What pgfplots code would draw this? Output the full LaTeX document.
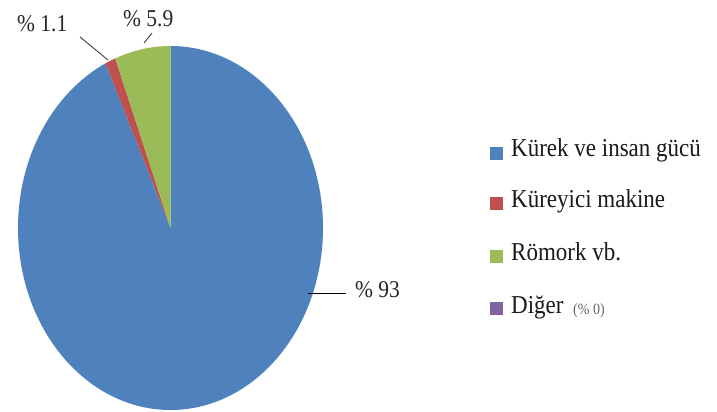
\documentclass[border=0pt]{standalone}
\usepackage{fontspec}
\setmainfont{Liberation Serif}
\usepackage{pgfplots}
\pgfplotsset{compat=1.18}
\definecolor{pieblue}{HTML}{4F81BD}
\definecolor{piered}{HTML}{C0504D}
\definecolor{piegreen}{HTML}{9BBB59}
\definecolor{piepurple}{HTML}{8064A2}
\definecolor{leader}{HTML}{404040}
% pie values (percent), clockwise from 12 o'clock
\def\vA{93}   % Kurek ve insan gucu
\def\vB{1.1}  % Kureyici makine
\def\vC{5.9}  % Romork vb.
\def\vD{0}    % Diger
\def\cx{170.5}
\def\cy{184}
\def\rx{152.5}
\def\ry{182}
\begin{document}
\begin{tikzpicture}
\begin{axis}[x=1pt,y=1pt,xmin=0,xmax=717,ymin=0,ymax=412,
  hide axis, clip=false, scale only axis]
\path (axis cs:0,0) rectangle (axis cs:717,412);
% blue slice
\fill[pieblue] (axis cs:\cx,\cy) -- (axis cs:{\cx+\rx*cos(90)},{\cy+\ry*sin(90)})
  arc[start angle=90, delta angle={-3.6*\vA}, x radius=\rx pt, y radius=\ry pt] -- cycle;
% red slice
\fill[piered] (axis cs:\cx,\cy) -- (axis cs:{\cx+\rx*cos(90-3.6*\vA)},{\cy+\ry*sin(90-3.6*\vA)})
  arc[start angle={90-3.6*\vA}, delta angle={-3.6*\vB}, x radius=\rx pt, y radius=\ry pt] -- cycle;
% green slice
\fill[piegreen] (axis cs:\cx,\cy) -- (axis cs:{\cx+\rx*cos(90-3.6*(\vA+\vB))},{\cy+\ry*sin(90-3.6*(\vA+\vB))})
  arc[start angle={90-3.6*(\vA+\vB)}, delta angle={-3.6*\vC}, x radius=\rx pt, y radius=\ry pt] -- cycle;
% leader lines
\draw[leader, line width=0.9pt] (axis cs:80,375) -- (axis cs:108,352);
\draw[leader, line width=0.9pt] (axis cs:152,379) -- (axis cs:144,369);
\draw[black, line width=0.9pt] (axis cs:308,119) -- (axis cs:346,119);
% data labels
\tikzset{lbl/.style={anchor=base west, inner sep=0pt, yscale=1.12, text=black!85}}
\node[lbl, font=\fontsize{21.5}{25}\selectfont] at (axis cs:17,380) {\% 1.1};
\node[lbl, font=\fontsize{21.5}{25}\selectfont] at (axis cs:123,385) {\% 5.9};
\node[lbl, font=\fontsize{21.5}{25}\selectfont] at (axis cs:355,114) {\% 93};
% legend
\fill[pieblue]   (axis cs:490,252) rectangle (axis cs:503,265);
\fill[piered]    (axis cs:490,202) rectangle (axis cs:503,215);
\fill[piegreen]  (axis cs:490,149) rectangle (axis cs:503,162);
\fill[piepurple] (axis cs:490,97)  rectangle (axis cs:503,110);
\tikzset{leg/.style={anchor=base west, inner sep=0pt, yscale=1.12, text=black!90, font=\fontsize{23}{27}\selectfont}}
\node[leg] at (axis cs:511,255) {Kürek ve insan gücü};
\node[leg] at (axis cs:511,204) {Küreyici makine};
\node[leg] at (axis cs:511,151) {Römork vb.};
\node[leg] at (axis cs:511,98) {Diğer};
\node[anchor=base west, inner sep=0pt, yscale=1.12, font=\fontsize{14}{16}\selectfont, text=black!60] at (axis cs:573,97) {(\% \vD)};
\end{axis}
\end{tikzpicture}
\end{document}
